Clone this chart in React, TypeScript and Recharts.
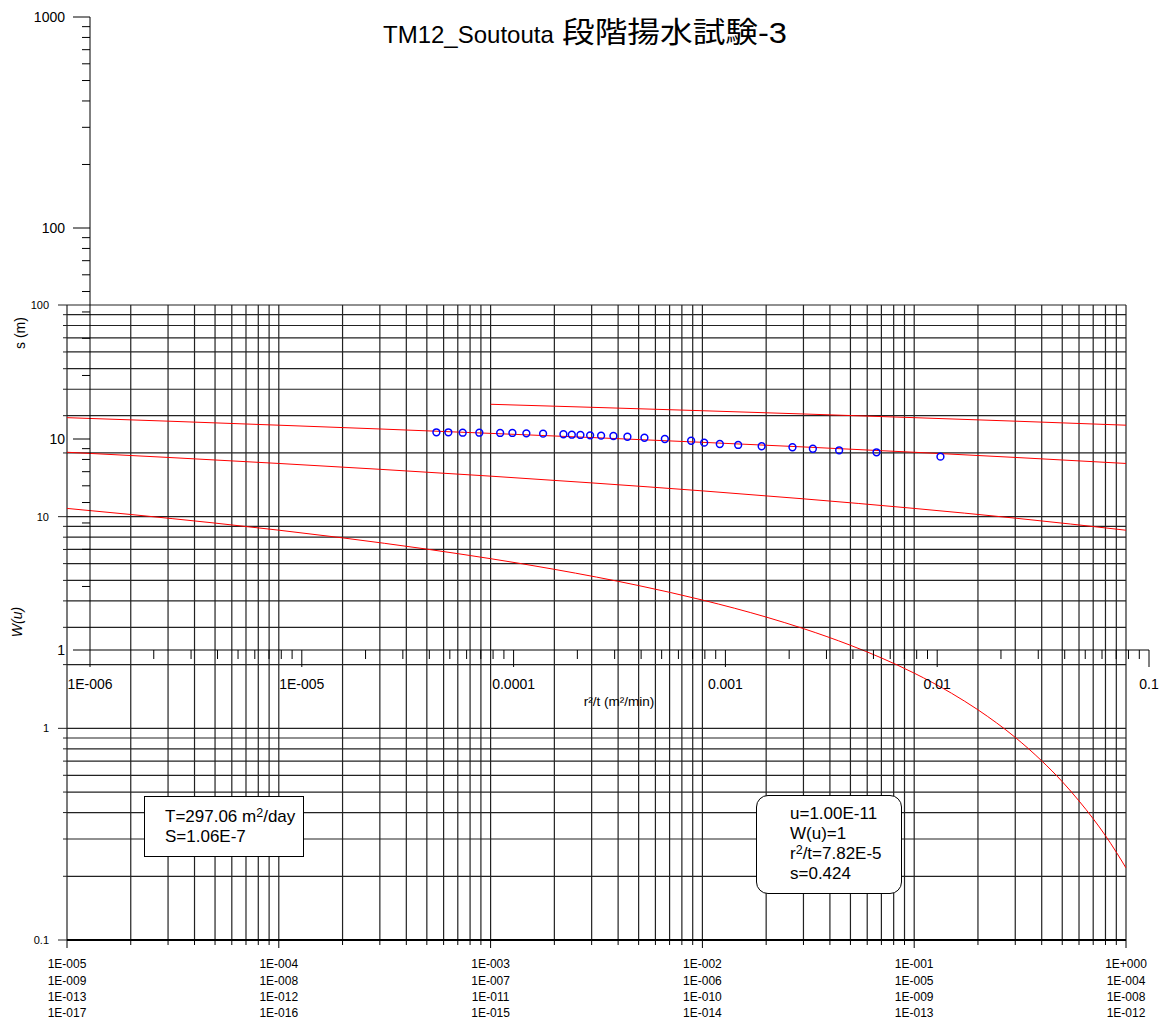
import React from 'react';
import { ComposedChart, Line, Scatter, XAxis, YAxis, CartesianGrid } from 'recharts';

const FONT = "Arial, 'Liberation Sans', sans-serif";

// type curve W(u): outer axis positions (row 1 of u labels) and W values
const curve1U = [1e-5, 2e-5, 5e-5, 1e-4, 2e-4, 5e-4, 1e-3, 2e-3, 5e-3, 1e-2, 2e-2, 3e-2, 5e-2, 7e-2, 0.1, 0.15, 0.2, 0.3, 0.4, 0.5, 0.6, 0.7, 0.8, 0.9, 1];
const curve1W = [10.94, 10.24, 9.326, 8.633, 7.94, 7.024, 6.332, 5.639, 4.726, 4.038, 3.355, 2.959, 2.468, 2.151, 1.823, 1.465, 1.223, 0.906, 0.702, 0.56, 0.454, 0.374, 0.311, 0.26, 0.219];
const curveU = [1e-5, 3e-5, 1e-4, 3e-4, 1e-3, 3e-3, 1e-2, 3e-2, 0.1, 0.3, 1];
const curve2W = [20.15, 19.05, 17.84, 16.74, 15.54, 14.44, 13.24, 12.14, 10.94, 9.84, 8.63];
const curve3W = [29.36, 28.26, 27.05, 25.96, 24.75, 23.65, 22.45, 21.35, 20.15, 19.05, 17.84];
const curve4U = [1e-3, 3e-3, 1e-2, 3e-2, 0.1, 0.3, 1];
const curve4W = [33.96, 32.86, 31.66, 30.56, 29.36, 28.26, 27.05];

// observed drawdown
const r2t = [4.32e-5, 4.92e-5, 5.75e-5, 6.89e-5, 8.64e-5, 9.87e-5, 1.149e-4, 1.378e-4, 1.719e-4, 1.883e-4, 2.068e-4, 2.298e-4, 2.589e-4, 2.96e-4, 3.447e-4, 4.147e-4, 5.177e-4, 6.89e-4, 7.94e-4, 9.41e-4, 1.149e-3, 1.483e-3, 2.073e-3, 2.588e-3, 3.444e-3, 5.17e-3, 1.036e-2];
const sObs = [10.76, 10.76, 10.71, 10.71, 10.68, 10.68, 10.64, 10.6, 10.53, 10.48, 10.45, 10.41, 10.37, 10.33, 10.25, 10.14, 10.0, 9.81, 9.61, 9.47, 9.37, 9.24, 9.14, 8.99, 8.84, 8.65, 8.25];

// tick labels
const uLabelRows = [
  ['1E-005', '1E-004', '1E-003', '1E-002', '1E-001', '1E+000'],
  ['1E-009', '1E-008', '1E-007', '1E-006', '1E-005', '1E-004'],
  ['1E-013', '1E-012', '1E-011', '1E-010', '1E-009', '1E-008'],
  ['1E-017', '1E-016', '1E-015', '1E-014', '1E-013', '1E-012'],
];
const wLabels = ['0.1', '1', '10', '100'];
const rLabels = ['1E-006', '1E-005', '0.0001', '0.001', '0.01', '0.1'];
const sLabels = ['1', '10', '100', '1000'];

const logTicks = (lo: number, hi: number) => {
  const t: number[] = [];
  for (let e = lo; e < hi; e++) for (let k = 1; k < 10; k++) t.push(k * Math.pow(10, e));
  t.push(Math.pow(10, hi));
  return t;
};
const decade = (v: number) => {
  const e = Math.log10(v);
  return Math.abs(e - Math.round(e)) < 1e-6 ? Math.round(e) : null;
};

const uTicks = logTicks(-5, 0);
const wTicks = logTicks(-1, 2);
const rTicks = logTicks(-6, -1);
const sTicks = logTicks(0, 3);

const zip = (xs: number[], ys: number[]) => xs.map((u, i) => ({ u, w: ys[i] }));
const curves = [zip(curve1U, curve1W), zip(curveU, curve2W), zip(curveU, curve3W), zip(curve4U, curve4W)];
const points = r2t.map((x, i) => ({ x, s: sObs[i] }));

const OuterXTick = (p: any) => {
  const { x, y, payload } = p;
  const e = decade(payload.value);
  return (
    <g>
      <line x1={x} x2={x} y1={y} y2={y + (e !== null ? 8 : 5)} stroke="#000" />
      {e !== null &&
        uLabelRows.map((row, r) => (
          <text key={r} x={x} y={y + 24 + r * 16.3} dy="0.35em" textAnchor="middle" fontSize={12} fontFamily={FONT} fill="#000">
            {row[e + 5]}
          </text>
        ))}
    </g>
  );
};

const OuterYTick = (p: any) => {
  const { x, y, payload } = p;
  const e = decade(payload.value);
  return (
    <g>
      <line x1={x - (e !== null ? 9 : 4)} x2={x} y1={y} y2={y} stroke="#222" />
      {e !== null && (
        <text x={x - 18} y={y} dy="0.35em" textAnchor="end" fontSize={11} fontFamily={FONT} fill="#000">
          {wLabels[e + 1]}
        </text>
      )}
    </g>
  );
};

const InnerXTick = (p: any) => {
  const { x, y, payload } = p;
  const e = decade(payload.value);
  return (
    <g>
      <line x1={x} x2={x} y1={y} y2={y + (e !== null ? 17 : 9)} stroke="#000" />
      {e !== null && (
        <text x={x} y={y + 34} dy="0.35em" textAnchor="middle" fontSize={14} fontFamily={FONT} fill="#000">
          {rLabels[e + 6]}
        </text>
      )}
    </g>
  );
};

const InnerYTick = (p: any) => {
  const { x, y, payload } = p;
  const e = decade(payload.value);
  return (
    <g>
      <line x1={x - (e !== null ? 17 : 8)} x2={x} y1={y} y2={y} stroke="#000" />
      {e !== null && (
        <text x={x - 25} y={y} dy="0.35em" textAnchor="end" fontSize={14} fontFamily={FONT} fill="#000">
          {sLabels[e]}
        </text>
      )}
    </g>
  );
};

const Circle = (p: any) => <circle cx={p.cx} cy={p.cy} r={3.4} fill="none" stroke="#0000ff" strokeWidth={1.5} />;

const sup: React.CSSProperties = { fontSize: 12.5, position: 'relative', top: -5, lineHeight: 0 };
const abs: React.CSSProperties = { position: 'absolute', left: 0, top: 0 };

export default function App() {
  return (
    <div style={{ position: 'absolute', left: 0, top: 0, width: 1167, height: 1024, background: '#fff', fontFamily: FONT, color: '#000' }}>
      <div style={abs}>
        <ComposedChart width={1167} height={1024} margin={{ top: 305, right: 41, bottom: 0, left: 0 }}>
          <CartesianGrid stroke="#222" strokeWidth={1.2} />
          <XAxis
            dataKey="u" type="number" scale="log" domain={[1e-5, 1]} allowDataOverflow ticks={uTicks} interval={0}
            height={84} tickSize={0} tickMargin={0} tickLine={false} axisLine={{ stroke: '#000', strokeWidth: 2 }} tick={OuterXTick}
          />
          <YAxis
            type="number" scale="log" domain={[0.1, 100]} allowDataOverflow ticks={wTicks} interval={0}
            width={67} tickSize={0} tickMargin={0} tickLine={false} axisLine={false} tick={OuterYTick}
          />
          {curves.map((c, i) => (
            <Line key={i} data={c} dataKey="w" type="monotone" stroke="#ff0000" strokeWidth={1} dot={false} isAnimationActive={false} />
          ))}
        </ComposedChart>
      </div>
      <div style={abs}>
        <ComposedChart width={1167} height={1024} margin={{ top: 17, right: 18, bottom: 314, left: 0 }}>
          <XAxis
            dataKey="x" type="number" scale="log" domain={[1e-6, 0.1]} allowDataOverflow ticks={rTicks} interval={0}
            height={60} tickSize={0} tickMargin={0} tickLine={false} axisLine={{ stroke: '#000' }} tick={InnerXTick}
          />
          <YAxis
            dataKey="s" type="number" scale="log" domain={[1, 1000]} allowDataOverflow ticks={sTicks} interval={0}
            width={90} tickSize={0} tickMargin={0} tickLine={false} axisLine={{ stroke: '#000' }} tick={InnerYTick}
          />
          <Scatter data={points} shape={Circle} isAnimationActive={false} />
        </ComposedChart>
      </div>

      <svg width={1167} height={60} style={abs}>
        <text x={383} y={43} fontSize={24} fontFamily={FONT}>TM12_Soutouta</text>
        <text x={562} y={43} fontSize={29} fontFamily={"Arial, 'Liberation Sans', 'Noto Sans CJK JP', sans-serif"} textLength={225} lengthAdjust="spacingAndGlyphs">
          段階揚水試験-3
        </text>
      </svg>

      <div style={{ position: 'absolute', left: 20, top: 333, transform: 'translate(-50%,-50%) rotate(-90deg)', fontSize: 14, whiteSpace: 'nowrap' }}>s (m)</div>
      <div style={{ position: 'absolute', left: 17, top: 622, transform: 'translate(-50%,-50%) rotate(-90deg)', fontSize: 14, fontStyle: 'italic', whiteSpace: 'nowrap' }}>W(u)</div>
      <div style={{ position: 'absolute', left: 619, top: 701, transform: 'translate(-50%,-50%)', fontSize: 13.5, whiteSpace: 'nowrap' }}>r²/t (m²/min)</div>

      <div style={{ position: 'absolute', left: 144, top: 796, width: 160, height: 61, boxSizing: 'border-box', border: '1px solid #000', background: '#fff', paddingLeft: 20, paddingTop: 10, fontSize: 17, lineHeight: '20px', whiteSpace: 'nowrap' }}>
        <div>T=297.06 m<span style={sup}>2</span>/day</div>
        <div>S=1.06E-7</div>
      </div>
      <div style={{ position: 'absolute', left: 756, top: 795, width: 146, height: 99, boxSizing: 'border-box', border: '1px solid #000', borderRadius: 12, background: '#fff', paddingLeft: 33, paddingTop: 8, fontSize: 17, lineHeight: '20px', whiteSpace: 'nowrap' }}>
        <div>u=1.00E-11</div>
        <div>W(u)=1</div>
        <div>r<span style={sup}>2</span>/t=7.82E-5</div>
        <div>s=0.424</div>
      </div>
    </div>
  );
}
